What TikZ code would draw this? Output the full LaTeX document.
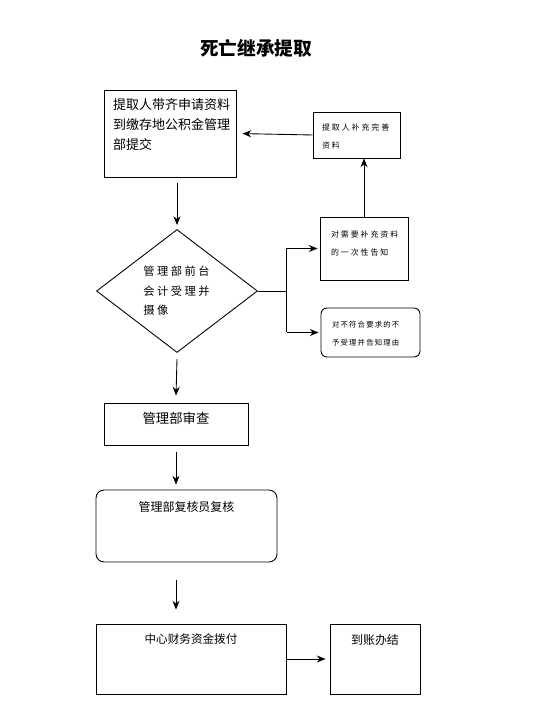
\documentclass[tikz,border=0pt]{standalone}
\usepackage{fontspec}
\setmainfont{Noto Sans CJK SC}
\usetikzlibrary{arrows.meta,shapes.geometric,calc}
\begin{document}
\begin{tikzpicture}[x=0.02cm,y=-0.02cm,line width=0.5pt,
  box/.style={draw,inner sep=0pt},
  txt/.style={inner sep=0pt,align=left},
  >={Stealth[length=5pt,width=4pt]}]
\useasboundingbox (0,0) rectangle (550,715);
\node[font=\bfseries\fontsize{10.6pt}{12pt}\selectfont] (title) at (256,48) {死亡继承提取};
\node[box,minimum width=2.64cm,minimum height=1.74cm] (b1) at (170,133.5) {};
\node[txt,font=\fontsize{7.4pt}{11.3pt}\selectfont,anchor=north west] (t1) at ($(b1.north west)+(9,9)$) {提取人带齐申请资料\\到缴存地公积金管理\\部提交};
\node[box,minimum width=1.74cm,minimum height=0.92cm] (b2) at (356.5,135) {};
\node[txt,font=\fontsize{4.5pt}{10.2pt}\selectfont\addfontfeature{LetterSpace=25},anchor=north west] (t2) at ($(b2.north west)+(9,12)$) {提取人补充完善\\资料};
\node[box,minimum width=1.76cm,minimum height=1.26cm] (b3) at (364,248.5) {};
\node[txt,font=\fontsize{4.5pt}{10.2pt}\selectfont\addfontfeature{LetterSpace=25},anchor=north west] (t3) at ($(b3.north west)+(11,14)$) {对需要补充资料\\的一次性告知};
\node[box,rounded corners=0.12cm,minimum width=1.98cm,minimum height=0.98cm] (b4) at (370.5,332.5) {};
\node[txt,font=\fontsize{4.2pt}{10.6pt}\selectfont\addfontfeature{LetterSpace=16},anchor=north west] (t4) at ($(b4.north west)+(11,13)$) {对不符合要求的不\\予受理并告知理由};
\node[box,diamond,minimum width=3.22cm,minimum height=2.46cm] (dia) at (177,291) {};
\node[txt,font=\fontsize{6.4pt}{11pt}\selectfont\addfontfeature{LetterSpace=22},anchor=north west] (t5) at (143,266) {管理部前台\\会计受理并\\摄像};
\node[box,minimum width=2.88cm,minimum height=0.84cm] (b5) at (176,424) {};
\node[txt,font=\fontsize{7.6pt}{9pt}\selectfont,anchor=north] (t6) at ($(b5.north)+(0,9)$) {管理部审查};
\node[box,rounded corners=0.16cm,minimum width=3.62cm,minimum height=1.44cm] (b6) at (186.5,526) {};
\node[txt,font=\fontsize{6.8pt}{9pt}\selectfont,anchor=north] (t7) at ($(b6.north)+(0,11)$) {管理部复核员复核};
\node[box,minimum width=3.8cm,minimum height=1.4cm] (b7) at (191,659) {};
\node[txt,font=\fontsize{6.6pt}{9pt}\selectfont,anchor=north] (t8) at ($(b7.north)+(0,10)$) {中心财务资金拨付};
\node[box,minimum width=1.8cm,minimum height=1.4cm] (b8) at (375,659) {};
\node[txt,font=\fontsize{6.8pt}{9pt}\selectfont,anchor=north] (t9) at ($(b8.north)+(0,10)$) {到账办结};
\draw[->,shorten >=0.08cm] ($(b1.south -| dia.north)+(0,6)$) -- (dia.north);
\draw (dia.east) -- ++(29,0) coordinate (fork);
\draw (fork |- b3.west) -- (fork |- b4.west);
\draw[->,shorten >=0.04cm] (fork |- b3.west) -- (b3.west);
\draw[->,shorten >=0.04cm] (fork |- b4.west) -- (b4.west);
\draw[->] (b3.north) -- (b3.north |- b2.south);
\draw[->,shorten >=0.12cm] (b2.west) -- (b1.east);
\draw[->] ($(dia.south)+(0,6)$) -- ($(b5.north)+(0,-7)$);
\draw[->] ($(b5.south)+(0,7)$) -- ($(b5.south |- b6.north)+(0,-5)$);
\draw[->] ($(b6.south -| b5.south)+(0,18)$) -- ($(b5.south |- b7.north)+(0,-14)$);
\draw[->,shorten >=0.08cm] (b7.east) -- (b8.west);
\end{tikzpicture}
\end{document}
